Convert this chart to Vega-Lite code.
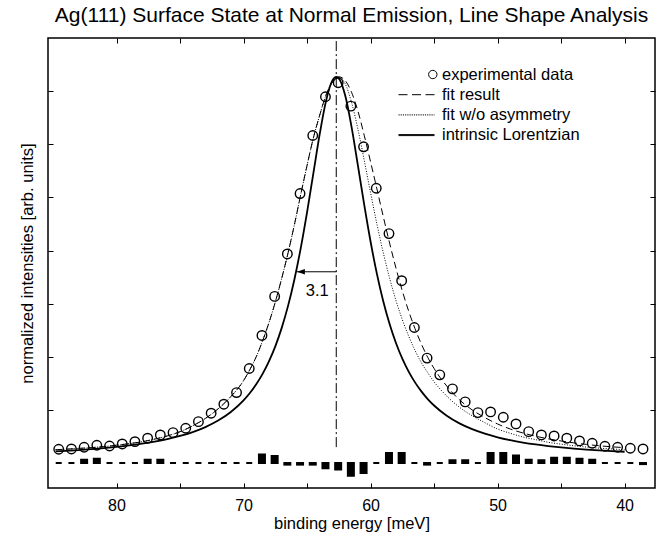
{
  "$schema": "https://vega.github.io/schema/vega-lite/v6.json",
  "width": 607,
  "height": 450,
  "autosize": "none",
  "padding": {"left": 48, "top": 38, "right": 13, "bottom": 49},
  "background": "white",
  "title": {"text": "Ag(111) Surface State at Normal Emission, Line Shape Analysis", "fontSize": 21, "fontWeight": "normal", "color": "black", "frame": "group", "anchor": "middle", "offset": 12},
  "datasets": {
    "exp": [
      {"E": 84.55, "I": 0.259, "res": 0},
      {"E": 83.55, "I": 0.265, "res": 0},
      {"E": 82.55, "I": 0.297, "res": 0.06},
      {"E": 81.55, "I": 0.335, "res": 0.08},
      {"E": 80.55, "I": 0.321, "res": 0},
      {"E": 79.55, "I": 0.359, "res": 0},
      {"E": 78.55, "I": 0.402, "res": 0},
      {"E": 77.55, "I": 0.467, "res": 0.06},
      {"E": 76.55, "I": 0.529, "res": 0.06},
      {"E": 75.55, "I": 0.572, "res": 0},
      {"E": 74.55, "I": 0.655, "res": 0},
      {"E": 73.55, "I": 0.779, "res": 0},
      {"E": 72.55, "I": 0.938, "res": 0},
      {"E": 71.55, "I": 1.107, "res": 0},
      {"E": 70.55, "I": 1.326, "res": 0},
      {"E": 69.55, "I": 1.779, "res": 0},
      {"E": 68.55, "I": 2.401, "res": 0.16},
      {"E": 67.55, "I": 3.136, "res": 0.13},
      {"E": 66.55, "I": 3.935, "res": -0.03},
      {"E": 65.55, "I": 5.072, "res": -0.03},
      {"E": 64.55, "I": 6.165, "res": -0.03},
      {"E": 63.55, "I": 6.894, "res": -0.1},
      {"E": 62.55, "I": 7.158, "res": -0.12},
      {"E": 61.55, "I": 6.717, "res": -0.24},
      {"E": 60.55, "I": 5.952, "res": -0.19},
      {"E": 59.55, "I": 5.172, "res": 0},
      {"E": 58.55, "I": 4.318, "res": 0.19},
      {"E": 57.55, "I": 3.432, "res": 0.19},
      {"E": 56.55, "I": 2.551, "res": 0},
      {"E": 55.55, "I": 1.975, "res": -0.03},
      {"E": 54.55, "I": 1.66, "res": 0},
      {"E": 53.55, "I": 1.396, "res": 0.05},
      {"E": 52.55, "I": 1.151, "res": 0.05},
      {"E": 51.55, "I": 0.949, "res": 0},
      {"E": 50.55, "I": 0.962, "res": 0.19},
      {"E": 49.55, "I": 0.862, "res": 0.19},
      {"E": 48.55, "I": 0.736, "res": 0.14},
      {"E": 47.55, "I": 0.591, "res": 0.06},
      {"E": 46.55, "I": 0.529, "res": 0.05},
      {"E": 45.55, "I": 0.51, "res": 0.1},
      {"E": 44.55, "I": 0.467, "res": 0.1},
      {"E": 43.55, "I": 0.416, "res": 0.08},
      {"E": 42.55, "I": 0.372, "res": 0.06},
      {"E": 41.55, "I": 0.316, "res": 0},
      {"E": 40.55, "I": 0.297, "res": 0},
      {"E": 39.55, "I": 0.278, "res": 0},
      {"E": 38.55, "I": 0.265, "res": -0.02}
    ],
    "fit": [
      {"E": 84.8, "v": 0.25}, {"E": 84, "v": 0.26}, {"E": 83, "v": 0.275}, {"E": 82, "v": 0.29},
      {"E": 81, "v": 0.31}, {"E": 80, "v": 0.335}, {"E": 79, "v": 0.365}, {"E": 78, "v": 0.4},
      {"E": 77, "v": 0.45}, {"E": 76, "v": 0.51}, {"E": 75, "v": 0.59}, {"E": 74, "v": 0.7},
      {"E": 73, "v": 0.84}, {"E": 72, "v": 1.02}, {"E": 71, "v": 1.25}, {"E": 70, "v": 1.55},
      {"E": 69.5, "v": 1.76}, {"E": 69, "v": 2.0}, {"E": 68.5, "v": 2.3}, {"E": 68, "v": 2.64},
      {"E": 67.5, "v": 3.03}, {"E": 67, "v": 3.47}, {"E": 66.5, "v": 3.95}, {"E": 66, "v": 4.48},
      {"E": 65.5, "v": 5.05}, {"E": 65, "v": 5.6}, {"E": 64.5, "v": 6.12}, {"E": 64, "v": 6.55},
      {"E": 63.5, "v": 6.93}, {"E": 63, "v": 7.17}, {"E": 62.5, "v": 7.27}, {"E": 62, "v": 7.2},
      {"E": 61.5, "v": 6.98}, {"E": 61, "v": 6.63}, {"E": 60.5, "v": 6.17}, {"E": 60, "v": 5.67},
      {"E": 59.5, "v": 5.16}, {"E": 59, "v": 4.64}, {"E": 58.5, "v": 4.14}, {"E": 58, "v": 3.67},
      {"E": 57.5, "v": 3.24}, {"E": 57, "v": 2.86}, {"E": 56.5, "v": 2.53}, {"E": 56, "v": 2.24},
      {"E": 55.5, "v": 1.99}, {"E": 55, "v": 1.78}, {"E": 54.5, "v": 1.6}, {"E": 54, "v": 1.45},
      {"E": 53.5, "v": 1.31}, {"E": 53, "v": 1.19}, {"E": 52, "v": 1.0}, {"E": 51, "v": 0.855},
      {"E": 50, "v": 0.735}, {"E": 49, "v": 0.64}, {"E": 48, "v": 0.565}, {"E": 47, "v": 0.505},
      {"E": 46, "v": 0.455}, {"E": 45, "v": 0.415}, {"E": 44, "v": 0.38}, {"E": 43, "v": 0.35},
      {"E": 42, "v": 0.325}, {"E": 41, "v": 0.305}, {"E": 40, "v": 0.29}
    ],
    "nofit": [
      {"E": 84.8, "v": 0.25}, {"E": 84, "v": 0.26}, {"E": 83, "v": 0.275}, {"E": 82, "v": 0.29},
      {"E": 81, "v": 0.31}, {"E": 80, "v": 0.335}, {"E": 79, "v": 0.365}, {"E": 78, "v": 0.4},
      {"E": 77, "v": 0.45}, {"E": 76, "v": 0.51}, {"E": 75, "v": 0.59}, {"E": 74, "v": 0.7},
      {"E": 73, "v": 0.84}, {"E": 72, "v": 1.02}, {"E": 71, "v": 1.25}, {"E": 70, "v": 1.55},
      {"E": 69.5, "v": 1.76}, {"E": 69, "v": 2.0}, {"E": 68.5, "v": 2.3}, {"E": 68, "v": 2.64},
      {"E": 67.5, "v": 3.03}, {"E": 67, "v": 3.47}, {"E": 66.5, "v": 3.95}, {"E": 66, "v": 4.48},
      {"E": 65.5, "v": 5.05}, {"E": 65, "v": 5.6}, {"E": 64.5, "v": 6.12}, {"E": 64, "v": 6.55},
      {"E": 63.5, "v": 6.93}, {"E": 63, "v": 7.17}, {"E": 62.5, "v": 7.26}, {"E": 62, "v": 7.14},
      {"E": 61.5, "v": 6.79}, {"E": 61, "v": 6.29}, {"E": 60.5, "v": 5.7}, {"E": 60, "v": 5.09},
      {"E": 59.5, "v": 4.5}, {"E": 59, "v": 3.96}, {"E": 58.5, "v": 3.48}, {"E": 58, "v": 3.06},
      {"E": 57.5, "v": 2.7}, {"E": 57, "v": 2.39}, {"E": 56.5, "v": 2.12}, {"E": 56, "v": 1.89},
      {"E": 55.5, "v": 1.7}, {"E": 55, "v": 1.53}, {"E": 54, "v": 1.26}, {"E": 53, "v": 1.05},
      {"E": 52, "v": 0.89}, {"E": 51, "v": 0.76}, {"E": 50, "v": 0.64}, {"E": 49, "v": 0.56},
      {"E": 48, "v": 0.49}, {"E": 47, "v": 0.44}, {"E": 46, "v": 0.39}, {"E": 45, "v": 0.355},
      {"E": 44, "v": 0.325}, {"E": 43, "v": 0.3}, {"E": 42, "v": 0.28}, {"E": 41, "v": 0.265},
      {"E": 40, "v": 0.25}
    ],
    "lor": [
      {"E": 84.8, "v": 0.219}, {"E": 84, "v": 0.229}, {"E": 83, "v": 0.244}, {"E": 82, "v": 0.261},
      {"E": 81, "v": 0.281}, {"E": 80, "v": 0.304}, {"E": 79, "v": 0.331}, {"E": 78, "v": 0.364},
      {"E": 77, "v": 0.403}, {"E": 76, "v": 0.45}, {"E": 75, "v": 0.509}, {"E": 74, "v": 0.583},
      {"E": 73, "v": 0.677}, {"E": 72, "v": 0.799}, {"E": 71, "v": 0.96}, {"E": 70, "v": 1.178},
      {"E": 69.5, "v": 1.317}, {"E": 69, "v": 1.482}, {"E": 68.5, "v": 1.678}, {"E": 68, "v": 1.913},
      {"E": 67.5, "v": 2.196}, {"E": 67, "v": 2.539}, {"E": 66.5, "v": 2.953}, {"E": 66, "v": 3.451},
      {"E": 65.5, "v": 4.04}, {"E": 65, "v": 4.717}, {"E": 64.5, "v": 5.457}, {"E": 64, "v": 6.195},
      {"E": 63.5, "v": 6.821}, {"E": 63, "v": 7.203}, {"E": 62.7, "v": 7.27}, {"E": 62.4, "v": 7.203},
      {"E": 62, "v": 6.921}, {"E": 61.5, "v": 6.333}, {"E": 61, "v": 5.608}, {"E": 60.5, "v": 4.862},
      {"E": 60, "v": 4.169}, {"E": 59.5, "v": 3.561}, {"E": 59, "v": 3.046}, {"E": 58.5, "v": 2.616},
      {"E": 58, "v": 2.26}, {"E": 57.5, "v": 1.965}, {"E": 57, "v": 1.721}, {"E": 56.5, "v": 1.518},
      {"E": 56, "v": 1.348}, {"E": 55.5, "v": 1.204}, {"E": 55, "v": 1.083}, {"E": 54, "v": 0.89},
      {"E": 53, "v": 0.746}, {"E": 52, "v": 0.637}, {"E": 51, "v": 0.552}, {"E": 50, "v": 0.484},
      {"E": 49, "v": 0.43}, {"E": 48, "v": 0.386}, {"E": 47, "v": 0.35}, {"E": 46, "v": 0.32},
      {"E": 45, "v": 0.294}, {"E": 44, "v": 0.272}, {"E": 43, "v": 0.254}, {"E": 42, "v": 0.238},
      {"E": 41, "v": 0.224}, {"E": 40, "v": 0.212}
    ],
    "ann": [
      {"E0": 62.7, "Ehalf": 65.8, "halfmax": 3.6, "label": "3.1"}
    ]
  },
  "layer": [
    {
      "data": {"name": "exp"},
      "mark": {"type": "bar", "width": 6, "color": "black", "stroke": "black", "strokeWidth": 2},
      "encoding": {
        "x": {"field": "E", "type": "quantitative", "scale": {"domain": [38, 85], "reverse": true, "nice": false, "zero": false}, "axis": null},
        "y": {"field": "res", "type": "quantitative", "scale": {"domain": [-0.47, 8.0], "nice": false, "zero": false}, "axis": null},
        "y2": {"datum": 0}
      }
    },
    {
      "data": {"name": "lor"},
      "mark": {"type": "line", "color": "black", "strokeWidth": 1.8, "interpolate": "monotone"},
      "encoding": {
        "x": {"field": "E", "type": "quantitative", "scale": {"domain": [38, 85], "reverse": true, "nice": false, "zero": false}, "axis": null},
        "y": {"field": "v", "type": "quantitative", "scale": {"domain": [-0.47, 8.0], "nice": false, "zero": false}, "axis": null}
      }
    },
    {
      "data": {"name": "nofit"},
      "mark": {"type": "line", "color": "black", "strokeWidth": 1, "strokeDash": [1, 1.6], "interpolate": "monotone"},
      "encoding": {
        "x": {"field": "E", "type": "quantitative", "scale": {"domain": [38, 85], "reverse": true, "nice": false, "zero": false}, "axis": null},
        "y": {"field": "v", "type": "quantitative", "scale": {"domain": [-0.47, 8.0], "nice": false, "zero": false}, "axis": null}
      }
    },
    {
      "data": {"name": "fit"},
      "mark": {"type": "line", "color": "black", "strokeWidth": 1, "strokeDash": [7, 4], "interpolate": "monotone"},
      "encoding": {
        "x": {"field": "E", "type": "quantitative", "scale": {"domain": [38, 85], "reverse": true, "nice": false, "zero": false},
          "axis": {"orient": "bottom", "values": [40, 45, 50, 55, 60, 65, 70, 75, 80], "labelExpr": "datum.value % 10 === 0 ? datum.label : ''", "title": "binding energy [meV]", "labelPadding": 14.5, "titlePadding": 2,
            "encode": {"ticks": {"update": {"y2": {"signal": "datum.value % 10 === 0 ? -5 : -3.5"}}}}}},
        "y": {"field": "v", "type": "quantitative", "scale": {"domain": [-0.47, 8.0], "nice": false, "zero": false},
          "axis": {"orient": "left", "values": [1, 2, 3, 4, 5, 6, 7], "labels": false, "title": "normalized intensities [arb. units]", "titlePadding": 12}}
      }
    },
    {
      "data": {"name": "exp"},
      "mark": {"type": "point", "filled": false, "color": "black", "strokeWidth": 1.4, "size": 90, "opacity": 1},
      "encoding": {
        "x": {"field": "E", "type": "quantitative", "scale": {"domain": [38, 85], "reverse": true, "nice": false, "zero": false},
          "axis": {"orient": "top", "values": [40, 45, 50, 55, 60, 65, 70, 75, 80], "labels": false, "title": null,
            "encode": {"ticks": {"update": {"y2": {"signal": "datum.value % 10 === 0 ? 5 : 3.5"}}}}}},
        "y": {"field": "I", "type": "quantitative", "scale": {"domain": [-0.47, 8.0], "nice": false, "zero": false},
          "axis": {"orient": "right", "values": [1, 2, 3, 4, 5, 6, 7], "labels": false, "title": null}}
      }
    },
    {
      "data": {"name": "ann"},
      "mark": {"type": "rule", "color": "black", "strokeWidth": 1, "strokeDash": [10, 3, 2, 3]},
      "encoding": {
        "x": {"field": "E0", "type": "quantitative", "scale": {"domain": [38, 85], "reverse": true, "nice": false, "zero": false}, "axis": null},
        "y": {"datum": 0.3, "type": "quantitative", "scale": {"domain": [-0.47, 8.0], "nice": false, "zero": false}, "axis": null},
        "y2": {"datum": 7.95}
      }
    },
    {
      "data": {"name": "ann"},
      "mark": {"type": "rule", "color": "black", "strokeWidth": 1},
      "encoding": {
        "x": {"field": "E0", "type": "quantitative", "scale": {"domain": [38, 85], "reverse": true, "nice": false, "zero": false}, "axis": null},
        "x2": {"field": "Ehalf"},
        "y": {"field": "halfmax", "type": "quantitative", "scale": {"domain": [-0.47, 8.0], "nice": false, "zero": false}, "axis": null}
      }
    },
    {
      "data": {"name": "ann"},
      "mark": {"type": "point", "filled": true, "color": "black", "opacity": 1, "size": 64, "shape": "M0,0L2,-0.7L2,0.7Z", "strokeWidth": 0},
      "encoding": {
        "x": {"field": "Ehalf", "type": "quantitative", "scale": {"domain": [38, 85], "reverse": true, "nice": false, "zero": false}, "axis": null},
        "y": {"field": "halfmax", "type": "quantitative", "scale": {"domain": [-0.47, 8.0], "nice": false, "zero": false}, "axis": null}
      }
    },
    {
      "data": {"name": "ann"},
      "mark": {"type": "text", "color": "black", "fontSize": 16.5, "align": "center", "baseline": "middle"},
      "encoding": {
        "x": {"datum": 64.2, "type": "quantitative", "scale": {"domain": [38, 85], "reverse": true, "nice": false, "zero": false}, "axis": null},
        "y": {"datum": 3.23, "type": "quantitative", "scale": {"domain": [-0.47, 8.0], "nice": false, "zero": false}, "axis": null},
        "text": {"field": "label"}
      }
    },
    {
      "data": {"values": []},
      "mark": {"type": "point", "filled": false, "color": "black", "strokeWidth": 1, "size": 400, "opacity": 1},
      "encoding": {
        "shape": {"field": "series", "type": "nominal",
          "scale": {"domain": ["experimental data", "fit result", "fit w/o asymmetry", "intrinsic Lorentzian"],
            "range": [
              "M2.85,0A0.42,0.42,0,1,1,2.01,0A0.42,0.42,0,1,1,2.85,0Z",
              "M-1,0H-0.1M0.35,0H1.25M1.7,0H2.6",
              "M-1,0h0.12M-0.78,0h0.12M-0.56,0h0.12M-0.34,0h0.12M-0.12,0h0.12M0.1,0h0.12M0.32,0h0.12M0.54,0h0.12M0.76,0h0.12M0.98,0h0.12M1.2,0h0.12M1.42,0h0.12M1.64,0h0.12M1.86,0h0.12M2.08,0h0.12M2.3,0h0.12M2.52,0h0.08",
              "M-1,-0.05H2.6M-1,0.05H2.6"
            ]},
          "legend": {"orient": "none", "legendX": 350, "legendY": 26, "title": null, "padding": 0, "symbolSize": 400, "labelOffset": 23, "rowPadding": 1.2, "labelFontSize": 16.5, "labelColor": "black", "symbolStrokeWidth": 1, "symbolStrokeColor": "black", "symbolFillColor": "transparent", "labelLimit": 300}
        }
      }
    }
  ],
  "resolve": {"axis": {"x": "independent", "y": "independent"}},
  "config": {
    "font": "Liberation Sans",
    "view": {"stroke": "black", "strokeWidth": 1.5},
    "axis": {"domain": false, "grid": false, "tickColor": "black", "tickSize": -5, "tickWidth": 1, "labelColor": "black", "titleColor": "black", "labelFontSize": 16, "titleFontSize": 16.5, "titleFontWeight": "normal", "labelFont": "Liberation Sans", "titleFont": "Liberation Sans"},
    "legend": {"labelFont": "Liberation Sans"}
  }
}
